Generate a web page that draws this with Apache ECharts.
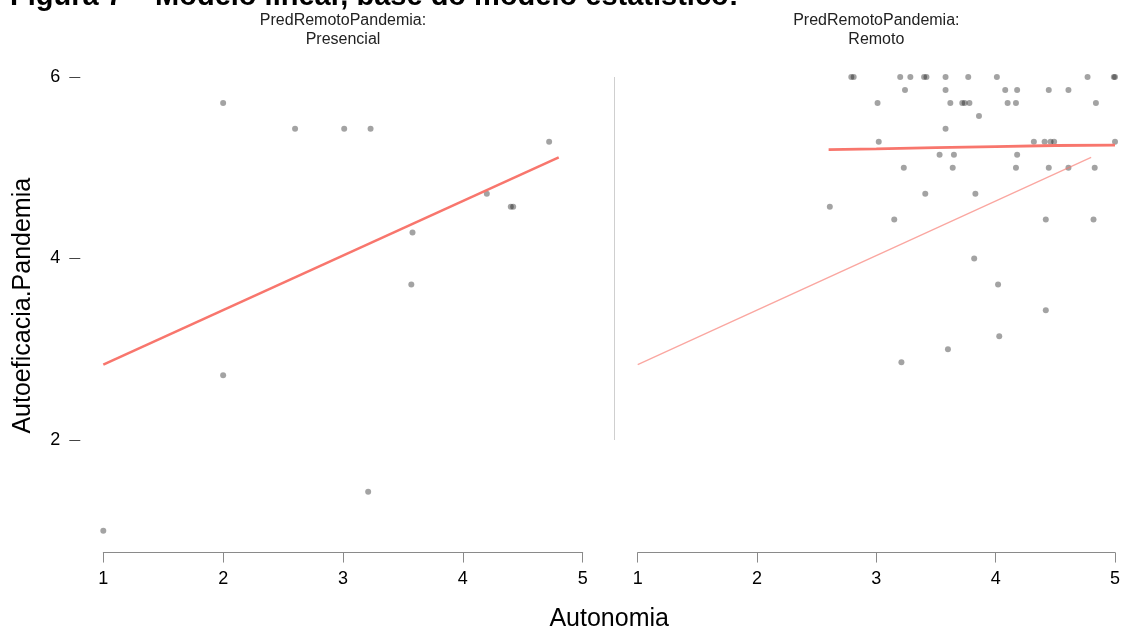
<!DOCTYPE html>
<html>
<head>
<meta charset="utf-8">
<script src="https://cdn.jsdelivr.net/npm/echarts@6/dist/echarts.min.js"></script>
<style>
  html, body { margin: 0; padding: 0; background: #fff; }
  #chart { width: 1124px; height: 631px; }
</style>
</head>
<body>
<div id="chart"></div>
<script>
// Observed points, panel "Presencial"
const presencialX = [1.00, 2.00, 2.00, 2.60, 3.01, 3.21, 3.23, 3.57, 3.58, 4.20, 4.40, 4.42, 4.72];
const presencialY = [1.000, 2.714, 5.714, 5.429, 5.429, 1.429, 5.429, 3.714, 4.286, 4.714, 4.571, 4.571, 5.286];

// Observed points, panel "Remoto"
const remotoX = [
  2.79, 2.81, 3.20, 3.285, 3.40, 3.42, 3.58, 3.77, 4.01, 4.77, 4.99, 5.00,
  3.24, 3.58, 4.08, 4.18, 4.445, 4.61,
  3.01, 3.62, 3.72, 3.74, 3.78, 4.10, 4.17, 4.84,
  3.86,
  3.58,
  3.02, 4.32, 4.41, 4.46, 4.49, 5.00,
  3.53, 3.65, 4.18,
  3.23, 3.64, 4.17, 4.445, 4.61, 4.83,
  3.41, 3.83,
  2.61,
  3.15, 4.42, 4.82,
  3.82, 4.02, 4.42, 4.03, 3.60, 3.21
];
const remotoY = [
  6.000, 6.000, 6.000, 6.000, 6.000, 6.000, 6.000, 6.000, 6.000, 6.000, 6.000, 6.000,
  5.857, 5.857, 5.857, 5.857, 5.857, 5.857,
  5.714, 5.714, 5.714, 5.714, 5.714, 5.714, 5.714, 5.714,
  5.571,
  5.429,
  5.286, 5.286, 5.286, 5.286, 5.286, 5.286,
  5.143, 5.143, 5.143,
  5.000, 5.000, 5.000, 5.000, 5.000, 5.000,
  4.714, 4.714,
  4.571,
  4.429, 4.429, 4.429,
  4.000, 3.714, 3.429, 3.143, 3.000, 2.857
];

// Base-model linear fit (drawn in both panels)
const baseFitX = [1.0, 4.8];
const baseFitY = [2.83, 5.115];

// Fit for the "Remoto" group
const remotoFitX = [2.6, 3.0, 3.5, 4.0, 4.5, 5.0];
const remotoFitY = [5.200, 5.208, 5.222, 5.233, 5.245, 5.250];

// Axis ticks
const xTicks = [1, 2, 3, 4, 5];
const yTicks = [2, 4, 6];

const titleText = 'Figura 7 \u2013 Modelo linear, base do modelo estat\u00edstico:';
const facetHeader = 'PredRemotoPandemia:';
const facetNames = ['Presencial', 'Remoto'];
const xName = 'Autonomia';
const yName = 'Autoeficacia.Pandemia';

const zip = (xs, ys) => xs.map((x, i) => [x, ys[i]]);

const FONT = '"Liberation Sans", Arial, Helvetica, sans-serif';
const POINT_COLOR = 'rgba(0,0,0,0.45)';
const FIT_COLOR = '#F8766D';
const AXIS_GRAY = '#8a8a8a';

const Y_MIN = 0.76, Y_MAX = 6.2;
const gridTop = 58.85, gridHeight = 493.7;
const panels = [
  { left: 103.3, width: 479.4 },
  { left: 637.7, width: 477.3 }
];

const chart = echarts.init(document.getElementById('chart'), null, { renderer: 'canvas' });

const xAxisFor = (gi) => ({
  type: 'value', gridIndex: gi, min: 1, max: 5, interval: 1,
  axisLine: { show: true, lineStyle: { color: AXIS_GRAY, width: 1 } },
  axisTick: { show: true, length: 10, lineStyle: { color: AXIS_GRAY, width: 1 }, customValues: xTicks },
  axisLabel: { show: true, fontSize: 18, color: '#000', fontFamily: FONT, margin: 17, customValues: xTicks },
  splitLine: { show: false }
});

const option = {
  animation: false,
  backgroundColor: '#fff',
  grid: panels.map(p => ({ left: p.left, width: p.width, top: gridTop, height: gridHeight, containLabel: false })),
  xAxis: [xAxisFor(0), xAxisFor(1)],
  yAxis: [
    {
      type: 'value', gridIndex: 0, min: Y_MIN, max: Y_MAX, offset: 23,
      name: yName, nameLocation: 'middle', nameGap: 45, nameRotate: 90,
      nameTextStyle: { fontSize: 25, color: '#000', fontFamily: FONT },
      axisLine: { show: false },
      axisTick: { show: true, length: 11, lineStyle: { color: '#444' }, customValues: yTicks },
      axisLabel: { show: true, fontSize: 18, color: '#000', fontFamily: FONT, margin: 20, customValues: yTicks },
      splitLine: { show: false }
    },
    {
      type: 'value', gridIndex: 1, min: Y_MIN, max: Y_MAX, show: false,
      splitLine: { show: false }
    }
  ],
  series: [
    {
      type: 'scatter', xAxisIndex: 0, yAxisIndex: 0, clip: false,
      data: zip(presencialX, presencialY),
      symbolSize: 6, itemStyle: { color: POINT_COLOR }, silent: true
    },
    {
      type: 'line', xAxisIndex: 0, yAxisIndex: 0, data: zip(baseFitX, baseFitY),
      showSymbol: false, symbol: 'none', lineStyle: { color: FIT_COLOR, width: 2.6 }, silent: true
    },
    {
      type: 'line', xAxisIndex: 1, yAxisIndex: 1, data: zip(baseFitX, baseFitY),
      showSymbol: false, symbol: 'none', lineStyle: { color: FIT_COLOR, width: 1.3, opacity: 0.65 }, silent: true
    },
    {
      type: 'scatter', xAxisIndex: 1, yAxisIndex: 1, clip: false,
      data: zip(remotoX, remotoY),
      symbolSize: 6, itemStyle: { color: POINT_COLOR }, silent: true
    },
    {
      type: 'line', xAxisIndex: 1, yAxisIndex: 1, data: zip(remotoFitX, remotoFitY),
      showSymbol: false, symbol: 'none', smooth: false,
      lineStyle: { color: FIT_COLOR, width: 2.8 }, silent: true
    }
  ]
};

chart.setOption(option);

// Text elements and the thin panel separator, placed with the panels' own scales
const centerOf = (gi) => {
  const a = chart.convertToPixel({ gridIndex: gi }, [1, 6]);
  const b = chart.convertToPixel({ gridIndex: gi }, [5, 6]);
  return (a[0] + b[0]) / 2;
};
const sepTop = chart.convertToPixel({ gridIndex: 1 }, [0.8, 6]);
const sepBottom = chart.convertToPixel({ gridIndex: 1 }, [0.8, 2]);
const leftEdge = chart.convertToPixel({ gridIndex: 0 }, [1, 6])[0];
const rightEdge = chart.convertToPixel({ gridIndex: 1 }, [5, 6])[0];

const graphics = [
  {
    type: 'text', x: 10, y: 11, silent: true,
    style: { text: titleText, font: 'bold 29px ' + FONT, fill: '#000', textAlign: 'left', textVerticalAlign: 'bottom' }
  },
  {
    type: 'text', x: (leftEdge + rightEdge) / 2, y: 619, silent: true,
    style: { text: xName, font: '25px ' + FONT, fill: '#000', textAlign: 'center', textVerticalAlign: 'middle' }
  },
  {
    type: 'line', silent: true,
    shape: { x1: Math.round(sepTop[0]) + 0.5, y1: sepTop[1], x2: Math.round(sepBottom[0]) + 0.5, y2: sepBottom[1] },
    style: { stroke: '#cfcfcf', lineWidth: 1 }
  }
];
facetNames.forEach((name, gi) => {
  graphics.push({
    type: 'text', x: centerOf(gi), y: 11.5, silent: true,
    style: {
      text: facetHeader + '\n' + name, font: '16px ' + FONT, fill: '#222',
      textAlign: 'center', textVerticalAlign: 'top', lineHeight: 18.5
    }
  });
});
chart.setOption({ graphic: graphics });
</script>
</body>
</html>
